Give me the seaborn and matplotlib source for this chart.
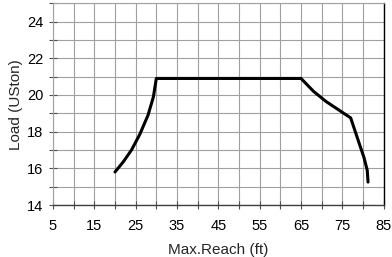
import numpy as np
import pandas as pd
import matplotlib
matplotlib.use('Agg')
import matplotlib.pyplot as plt
import seaborn as sns
from matplotlib.ticker import MultipleLocator

# Load chart values
reach_ft = [20, 22, 24, 26, 28, 29.3, 30, 65, 68, 71, 74, 77, 79, 80.2, 81, 81.2]
load_uston = [15.8, 16.35, 17.0, 17.85, 18.9, 19.9, 20.9, 20.9, 20.2, 19.65, 19.2, 18.75, 17.4, 16.6, 15.9, 15.25]

x_major = [5, 15, 25, 35, 45, 55, 65, 75, 85]
y_major = [14, 16, 18, 20, 22, 24]

df = pd.DataFrame({'reach': reach_ft, 'load': load_uston})

sns.set_style('white')
plt.rcParams['font.family'] = ['Liberation Sans', 'DejaVu Sans']

fig = plt.figure(figsize=(3.92, 2.57), dpi=100)
ax = fig.add_axes([0.135, 0.2023, 0.844, 0.785])

sns.lineplot(data=df, x='reach', y='load', sort=False, color='black', linewidth=2.2, ax=ax)

ax.set_xlim(5, 85)
ax.set_ylim(14, 25)
ax.set_xticks(x_major)
ax.set_yticks(y_major)
ax.xaxis.set_minor_locator(MultipleLocator(5))
ax.yaxis.set_minor_locator(MultipleLocator(1))
ax.grid(True, which='both', color='#a0a0a0', linewidth=0.8)
ax.set_axisbelow(True)

ax.tick_params(axis='both', which='both', direction='inout', length=6, width=0.8,
               colors='#505050', labelcolor='black', labelsize=10.5)
ax.tick_params(axis='x', which='major', pad=7)
ax.tick_params(axis='y', which='major', pad=4)
ax.tick_params(axis='both', which='both', bottom=True, left=True)

for side in ['top', 'left']:
    ax.spines[side].set_color('#a0a0a0')
    ax.spines[side].set_linewidth(0.8)
ax.spines['bottom'].set_color('#404040')
ax.spines['bottom'].set_linewidth(1.0)
ax.spines['right'].set_color('black')
ax.spines['right'].set_linewidth(1.0)

ax.set_xlabel('Max.Reach (ft)', fontsize=11, labelpad=7)
ax.set_ylabel('Load (USton)', fontsize=11, labelpad=3)

fig.savefig('out.png', dpi=100)
